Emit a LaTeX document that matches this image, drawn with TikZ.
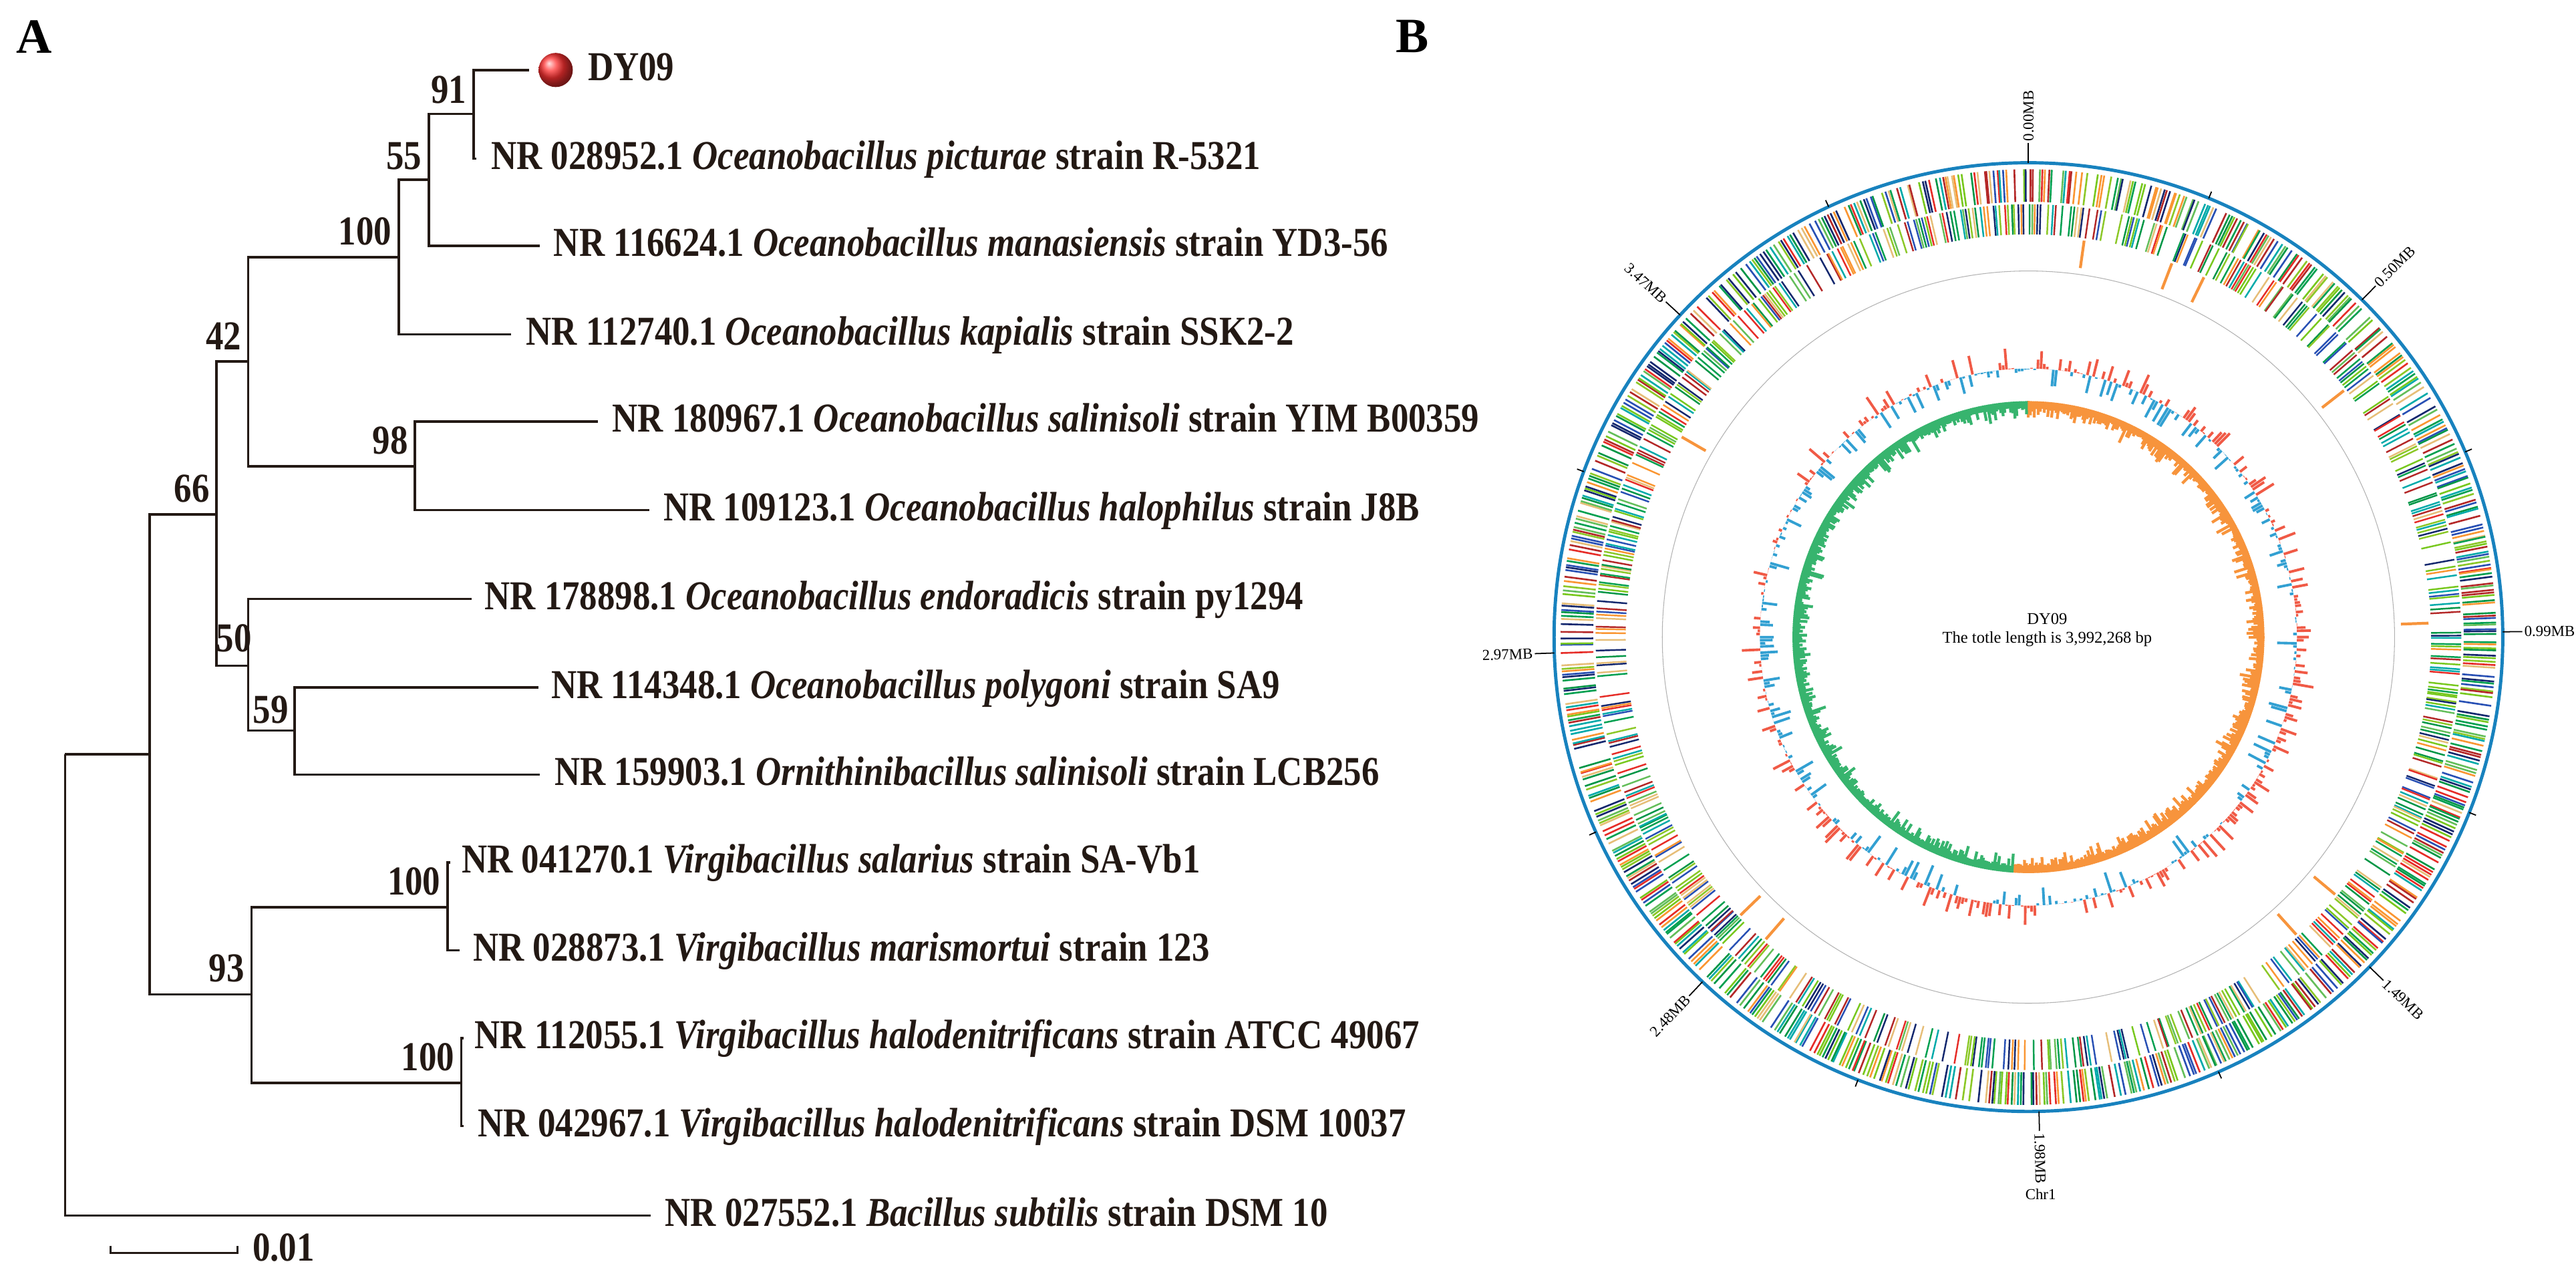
\documentclass[tikz,border=0pt]{standalone}
\usepackage{fontspec}
\setmainfont{Liberation Serif}
\newfontfamily\tf[FakeStretch=0.86]{Liberation Serif}
\usetikzlibrary{calc}
\definecolor{ringblue}{RGB}{24,130,190}
\definecolor{gc1}{RGB}{0,160,80}
\definecolor{gc2}{RGB}{140,200,40}
\definecolor{gc3}{RGB}{230,45,40}
\definecolor{gc4}{RGB}{250,150,50}
\definecolor{gc5}{RGB}{0,170,170}
\definecolor{gc6}{RGB}{40,80,180}
\definecolor{gc7}{RGB}{180,40,40}
\definecolor{gc8}{RGB}{100,190,90}
\definecolor{gc9}{RGB}{20,40,110}
\definecolor{gc10}{RGB}{0,150,70}
\definecolor{gc11}{RGB}{230,190,120}
\definecolor{gc12}{RGB}{120,200,30}
\definecolor{gcred}{RGB}{240,90,70}
\definecolor{gcblue}{RGB}{50,160,210}
\definecolor{skor}{RGB}{247,148,60}
\definecolor{skgr}{RGB}{55,180,110}
\definecolor{branch}{RGB}{35,25,20}
\definecolor{dotred}{RGB}{255,50,50}
\tikzset{
  br/.style={draw=branch, line width=1pt},
  leaf/.style={font=\tf\fontsize{17.5}{19}\selectfont\bfseries, text=branch, inner sep=0pt, anchor=base west},
  boot/.style={font=\tf\fontsize{17.5}{19}\selectfont\bfseries, text=branch, inner sep=0pt, anchor=south east},
  tick/.style={draw=black, line width=0.5pt},
  mb/.style={font=\fontsize{6.5}{7}\selectfont, inner sep=0pt}
}
\begin{document}
\begin{tikzpicture}[x=0.01218cm, y=-0.01218cm]
\useasboundingbox (0,0) rectangle (3166,1568);
% panel labels
\node[font=\fontsize{21}{22}\selectfont\bfseries, anchor=center] (pa) at (42,45) {A};
\node[font=\fontsize{21}{22}\selectfont\bfseries, anchor=center] (pb) at (1736,45) {B};
% tree coordinates
\coordinate (n0) at (80,927);
\coordinate (n1) at (184,927);
\coordinate (n66) at (266,632);
\coordinate (n93) at (309,1222);
\coordinate (n42) at (305,444);
\coordinate (n50) at (305,818);
\coordinate (n100) at (490,316);
\coordinate (n98) at (510,573);
\coordinate (n55) at (527,221);
\coordinate (n91) at (582,140);
\coordinate (n59) at (362,898);
\coordinate (n100a) at (550,1115);
\coordinate (n100b) at (567,1331);
\coordinate (eDY) at (650,86);
\coordinate (e1) at (585,195);
\coordinate (e2) at (663,302);
\coordinate (e3) at (628,411);
\coordinate (e4) at (735,518);
\coordinate (e5) at (798,627);
\coordinate (e6) at (580,736);
\coordinate (e7) at (662,845);
\coordinate (e8) at (663,952);
\coordinate (e9) at (553,1060);
\coordinate (e10) at (565,1168);
\coordinate (e11) at (570,1276);
\coordinate (e12) at (570,1384);
\coordinate (e13) at (800,1494);
% branches
\draw[br] (n0) |- (n1);
\draw[br] (n0) |- (e13);
\draw[br] (n1) |- (n66);
\draw[br] (n1) |- (n93);
\draw[br] (n66) |- (n42);
\draw[br] (n66) |- (n50);
\draw[br] (n42) |- (n100);
\draw[br] (n42) |- (n98);
\draw[br] (n100) |- (n55);
\draw[br] (n100) |- (e3);
\draw[br] (n55) |- (n91);
\draw[br] (n55) |- (e2);
\draw[br] (n91) |- (eDY);
\draw[br] (n91) |- (e1);
\draw[br] (n98) |- (e4);
\draw[br] (n98) |- (e5);
\draw[br] (n50) |- (e6);
\draw[br] (n50) |- (n59);
\draw[br] (n59) |- (e7);
\draw[br] (n59) |- (e8);
\draw[br] (n93) |- (n100a);
\draw[br] (n93) |- (n100b);
\draw[br] (n100a) |- (e9);
\draw[br] (n100a) |- (e10);
\draw[br] (n100b) |- (e11);
\draw[br] (n100b) |- (e12);
% bootstrap
\node[boot] (b91) at ($(n91)+(-8,-12)$) {91};
\node[boot] (b55) at ($(n55)+(-8,-12)$) {55};
\node[boot] (b100) at ($(n100)+(-8,-14)$) {100};
\node[boot] (b42) at ($(n42)+(-8,-14)$) {42};
\node[boot] (b66) at ($(n66)+(-8,-14)$) {66};
\node[boot] (b98) at ($(n98)+(-8,-14)$) {98};
\node[boot] (b50) at (310,802) {50};
\node[boot] (b59) at ($(n59)+(-7,-8)$) {59};
\node[boot] (b100a) at ($(n100a)+(-8,-14)$) {100};
\node[boot] (b93) at ($(n93)+(-8,-14)$) {93};
\node[boot] (b100b) at ($(n100b)+(-8,-14)$) {100};
% leaves
\shade[ball color=dotred] (683,86) circle (21);
\node[leaf] (lDY) at ($(eDY)+(72,13)$) {DY09};
\node[leaf] (l1) at ($(e1)+(18,13)$) {NR 028952.1 \textit{Oceanobacillus picturae} strain R-5321};
\node[leaf] (l2) at ($(e2)+(17,13)$) {NR 116624.1 \textit{Oceanobacillus manasiensis} strain YD3-56};
\node[leaf] (l3) at ($(e3)+(18,13)$) {NR 112740.1 \textit{Oceanobacillus kapialis} strain SSK2-2};
\node[leaf] (l4) at ($(e4)+(17,13)$) {NR 180967.1 \textit{Oceanobacillus salinisoli} strain YIM B00359};
\node[leaf] (l5) at ($(e5)+(17,13)$) {NR 109123.1 \textit{Oceanobacillus halophilus} strain J8B};
\node[leaf] (l6) at ($(e6)+(15,13)$) {NR 178898.1 \textit{Oceanobacillus endoradicis} strain py1294};
\node[leaf] (l7) at ($(e7)+(15,13)$) {NR 114348.1 \textit{Oceanobacillus polygoni} strain SA9};
\node[leaf] (l8) at ($(e8)+(18,13)$) {NR 159903.1 \textit{Ornithinibacillus salinisoli} strain LCB256};
\node[leaf] (l9) at ($(e9)+(14,13)$) {NR 041270.1 \textit{Virgibacillus salarius} strain SA-Vb1};
\node[leaf] (l10) at ($(e10)+(16,13)$) {NR 028873.1 \textit{Virgibacillus marismortui} strain 123};
\node[leaf] (l11) at ($(e11)+(13,13)$) {NR 112055.1 \textit{Virgibacillus halodenitrificans} strain ATCC 49067};
\node[leaf] (l12) at ($(e12)+(17,13)$) {NR 042967.1 \textit{Virgibacillus halodenitrificans} strain DSM 10037};
\node[leaf] (l13) at ($(e13)+(17,13)$) {NR 027552.1 \textit{Bacillus subtilis} strain DSM 10};
% scale bar
\coordinate (s1) at (136,1540);
\coordinate (s2) at (292,1540);
\draw[br] ($(s1)+(0,-9)$) -- (s1) -- (s2) -- ($(s2)+(0,-9)$);
\node[leaf] (sl) at ($(s2)+(18,10)$) {0.01};
% ===== circular genome map =====
\begin{scope}[shift={(2493,783)}]
\pgfmathsetseed{7}
% outer gene ring
\foreach \i in {0,...,899}{
  \pgfmathsetmacro\a{\i*0.4-90+0.3*rnd}
  \pgfmathrandominteger{\c}{1}{12}
  \pgfmathrandominteger{\p}{0}{9}
  \ifnum\p<8 \draw[line width=0.75pt, gc\c] (\a:535) -- (\a:575); \fi
}
% second gene ring
\foreach \i in {0,...,899}{
  \pgfmathsetmacro\a{\i*0.4-90+0.3*rnd}
  \pgfmathrandominteger{\c}{1}{12}
  \pgfmathrandominteger{\p}{0}{9}
  \ifnum\p<6 \draw[line width=0.7pt, gc\c] (\a:495) -- (\a:532); \fi
}
% sparse ring
\foreach \t in {8,21,26,52,88,130,138,221,226,300}{
  \draw[line width=1.2pt, skor] (\t-90:458) -- (\t-90:492);
}
\draw[gray!60, line width=0.3pt] (0,0) circle (450);
% GC content
\foreach \i in {0,...,539}{
  \pgfmathsetmacro\a{\i*(2/3)-90}
  \pgfmathsetmacro\h{rand}
  \pgfmathsetmacro\hh{26*\h*abs(\h)}
  \ifdim\hh pt>0pt
    \draw[line width=1.1pt, gcred] (\a:330) -- (\a:330+\hh);
  \else
    \draw[line width=1.1pt, gcblue] (\a:330) -- (\a:330+\hh);
  \fi
}
% GC skew
\foreach \i in {0,...,719}{
  \pgfmathsetmacro\a{\i*0.5-90}
  \pgfmathsetmacro\L{8+20*rnd*rnd}
  \ifnum\i<368
    \draw[line width=1.2pt, skor] (\a:290) -- (\a:290-\L);
  \else
    \draw[line width=1.2pt, skgr] (\a:290) -- (\a:290-\L);
  \fi
}
\draw[line width=1.4pt, ringblue] (0,0) circle (583);
% ticks
\foreach \k/\t in {0/0.00MB,1/0.50MB,2/0.99MB,3/1.49MB,4/1.98MB,5/2.48MB,6/2.97MB,7/3.47MB}{
  \pgfmathsetmacro\th{\k*44.68}
  \pgfmathsetmacro\a{\th-90}
  \pgfmathsetmacro\am{\th+22.34-90}
  \draw[tick] (\a:583) -- (\a:607);
  \draw[tick] (\am:583) -- (\am:592);
  \ifnum\k<5
    \pgfmathsetmacro\rt{90-\th}
    \node[mb, anchor=west, rotate=\rt] at (\a:609) {\t};
  \else
    \pgfmathsetmacro\rt{270-\th}
    \node[mb, anchor=east, rotate=\rt] at (\a:609) {\t};
  \fi
}
\node[font=\fontsize{7}{8}\selectfont, align=center] (ctr) at (23,-9) {DY09\\The totle length is 3,992,268 bp};
\node[font=\fontsize{6.5}{7}\selectfont] (chr) at (15,685) {Chr1};
\end{scope}
\end{tikzpicture}
\end{document}
